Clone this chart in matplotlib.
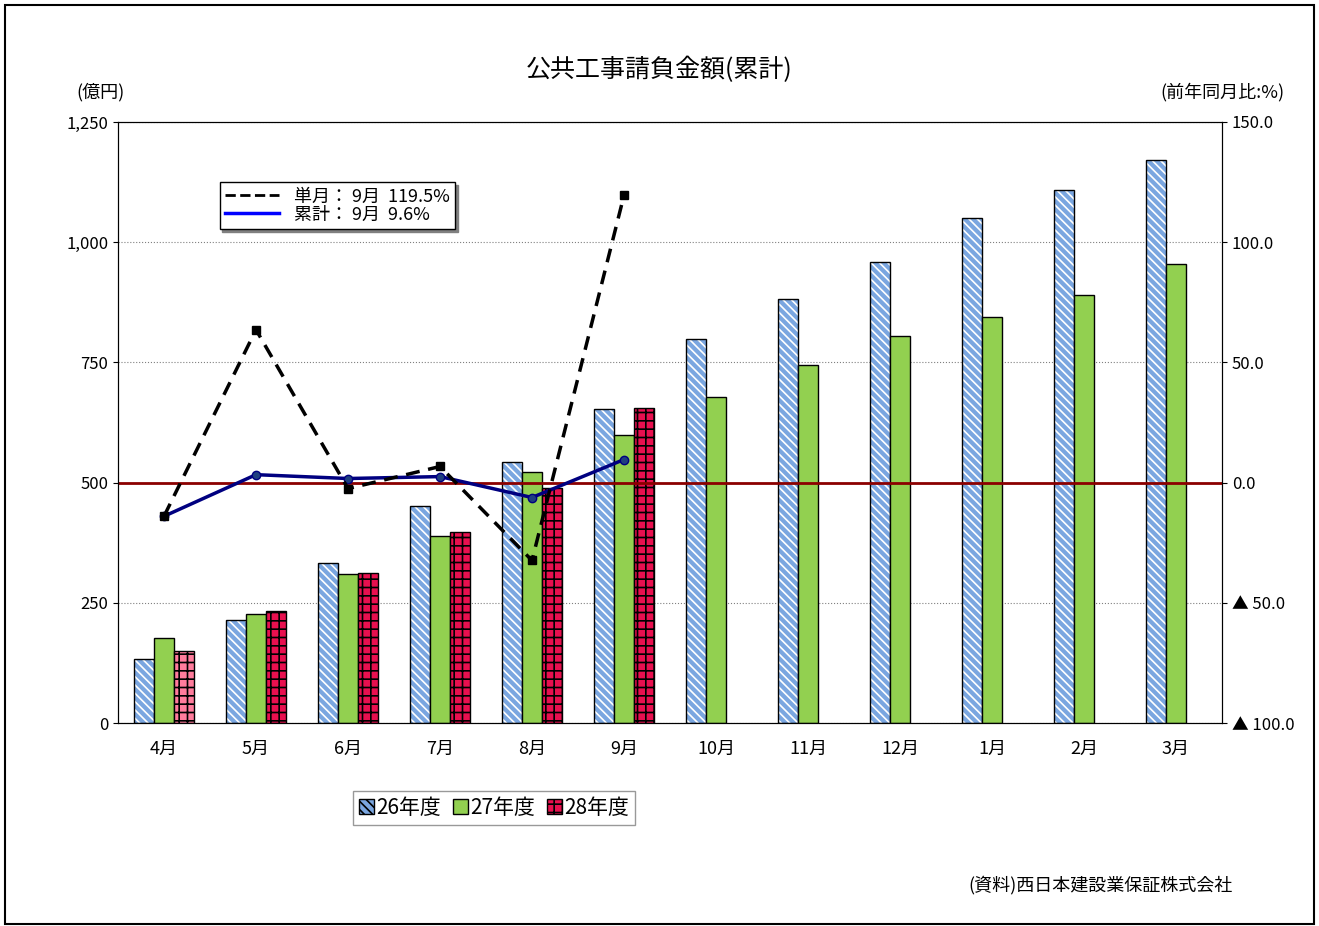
import numpy as np
import matplotlib.pyplot as plt
import matplotlib.patches as mpatches
from matplotlib.lines import Line2D

plt.rcParams['font.family'] = ['Noto Sans CJK JP', 'DejaVu Sans']
plt.rcParams['hatch.linewidth'] = 1.2

months = ['4月', '5月', '6月', '7月', '8月', '9月', '10月', '11月', '12月', '1月', '2月', '3月']
fy26 = [133, 214, 333, 451, 543, 653, 799, 882, 959, 1050, 1109, 1171]
fy27 = [177, 227, 310, 389, 522, 599, 678, 745, 805, 844, 890, 955]
fy28 = [150, 233, 312, 397, 489, 655]
single = [-14, 63.6, -2.5, 6.7, -32.4, 119.5]
cumul = [-14, 3.3, 1.7, 2.5, -6.2, 9.6]

W, H = 1319, 926
fig = plt.figure(figsize=(W / 100, H / 100), dpi=100)
fig.patches.append(mpatches.Rectangle((0.004, 0.002), 0.992, 0.993, transform=fig.transFigure,
                                      fill=False, edgecolor='black', lw=1.5))
ax = fig.add_axes([118 / W, 1 - 723 / H, (1222 - 118) / W, (723 - 122) / H])
x = np.arange(len(months))
bw = 0.22
# 26年度: 白い斜線 + 黒枠
ax.bar(x - bw, fy26, bw, color='#7aa6e0', edgecolor='white', hatch='\\\\\\\\', lw=0, zorder=2)
ax.bar(x - bw, fy26, bw, fill=False, edgecolor='black', lw=1, zorder=2)
ax.bar(x, fy27, bw, color='#92d050', edgecolor='black', lw=1, zorder=2)
c28 = ['#ff7c9c'] + ['#e8104f'] * 5
ax.bar(x[:6] + bw, fy28, bw, color=c28, edgecolor='black', hatch='++', lw=1, zorder=2)

ax.set_xlim(-0.5, 11.5)
ax.set_ylim(0, 1250)
ax.set_yticks([0, 250, 500, 750, 1000, 1250])
ax.set_yticklabels(['0', '250', '500', '750', '1,000', '1,250'], fontsize=12)
ax.set_xticks(x)
ax.set_xticklabels(months, fontsize=13)
ax.tick_params(axis='x', length=0, pad=12)
ax.grid(axis='y', color='gray', ls=':', lw=0.8, zorder=0)

ax2 = ax.twinx()
ax2.set_ylim(-100, 150)
ax2.set_yticks([-100, -50, 0, 50, 100, 150])
ax2.set_yticklabels(['▲ 100.0', '▲ 50.0', '0.0', '50.0', '100.0', '150.0'], fontsize=12)
ax2.axhline(0, color='#8b0000', lw=2, zorder=1)
ax2.plot(x[:6], cumul, color='#000080', lw=2.5, marker='o', ms=6, mfc='#1f3f7f', zorder=3)
ax2.plot(x[:6], single, color='black', lw=2.5, ls=(0, (4, 2.5)), marker='s', ms=6, zorder=4)

fig.text(0.5, 1 - 70 / H, '公共工事請負金額(累計)', ha='center', va='center', fontsize=18)
fig.text(100 / W, 1 - 92 / H, '(億円)', ha='center', va='center', fontsize=13)
fig.text(1222 / W, 1 - 92 / H, '(前年同月比:%)', ha='center', va='center', fontsize=13)
fig.text(1233 / W, 1 - 885 / H, '(資料)西日本建設業保証株式会社', ha='right', va='center', fontsize=13)

h1 = Line2D([], [], color='black', ls='--', lw=2)
h2 = Line2D([], [], color='blue', lw=2.5)
leg = ax.legend([h1, h2], ['単月： 9月  119.5%', '累計： 9月  9.6%'], loc='upper left',
                bbox_to_anchor=(0.092, 0.9), fontsize=13, frameon=True, fancybox=False,
                shadow={'color': 'gray', 'alpha': 1}, edgecolor='black', borderpad=0.3,
                handlelength=3, labelspacing=0.0, borderaxespad=0)
leg.get_frame().set_linewidth(1)

bh = [mpatches.Patch(facecolor='#7aa6e0', edgecolor='black', hatch='\\\\\\\\'),
      mpatches.Patch(facecolor='#92d050', edgecolor='black'),
      mpatches.Patch(facecolor='#e8104f', edgecolor='black', hatch='++')]
fig.legend(bh, ['26年度', '27年度', '28年度'], loc='center', bbox_to_anchor=(494 / W, 1 - 808 / H),
           ncol=3, fontsize=15, fancybox=False, edgecolor='gray', handlelength=0.7,
           handletextpad=0.1, columnspacing=0.6, borderpad=0.3)

fig.savefig('out.png', dpi=100)
